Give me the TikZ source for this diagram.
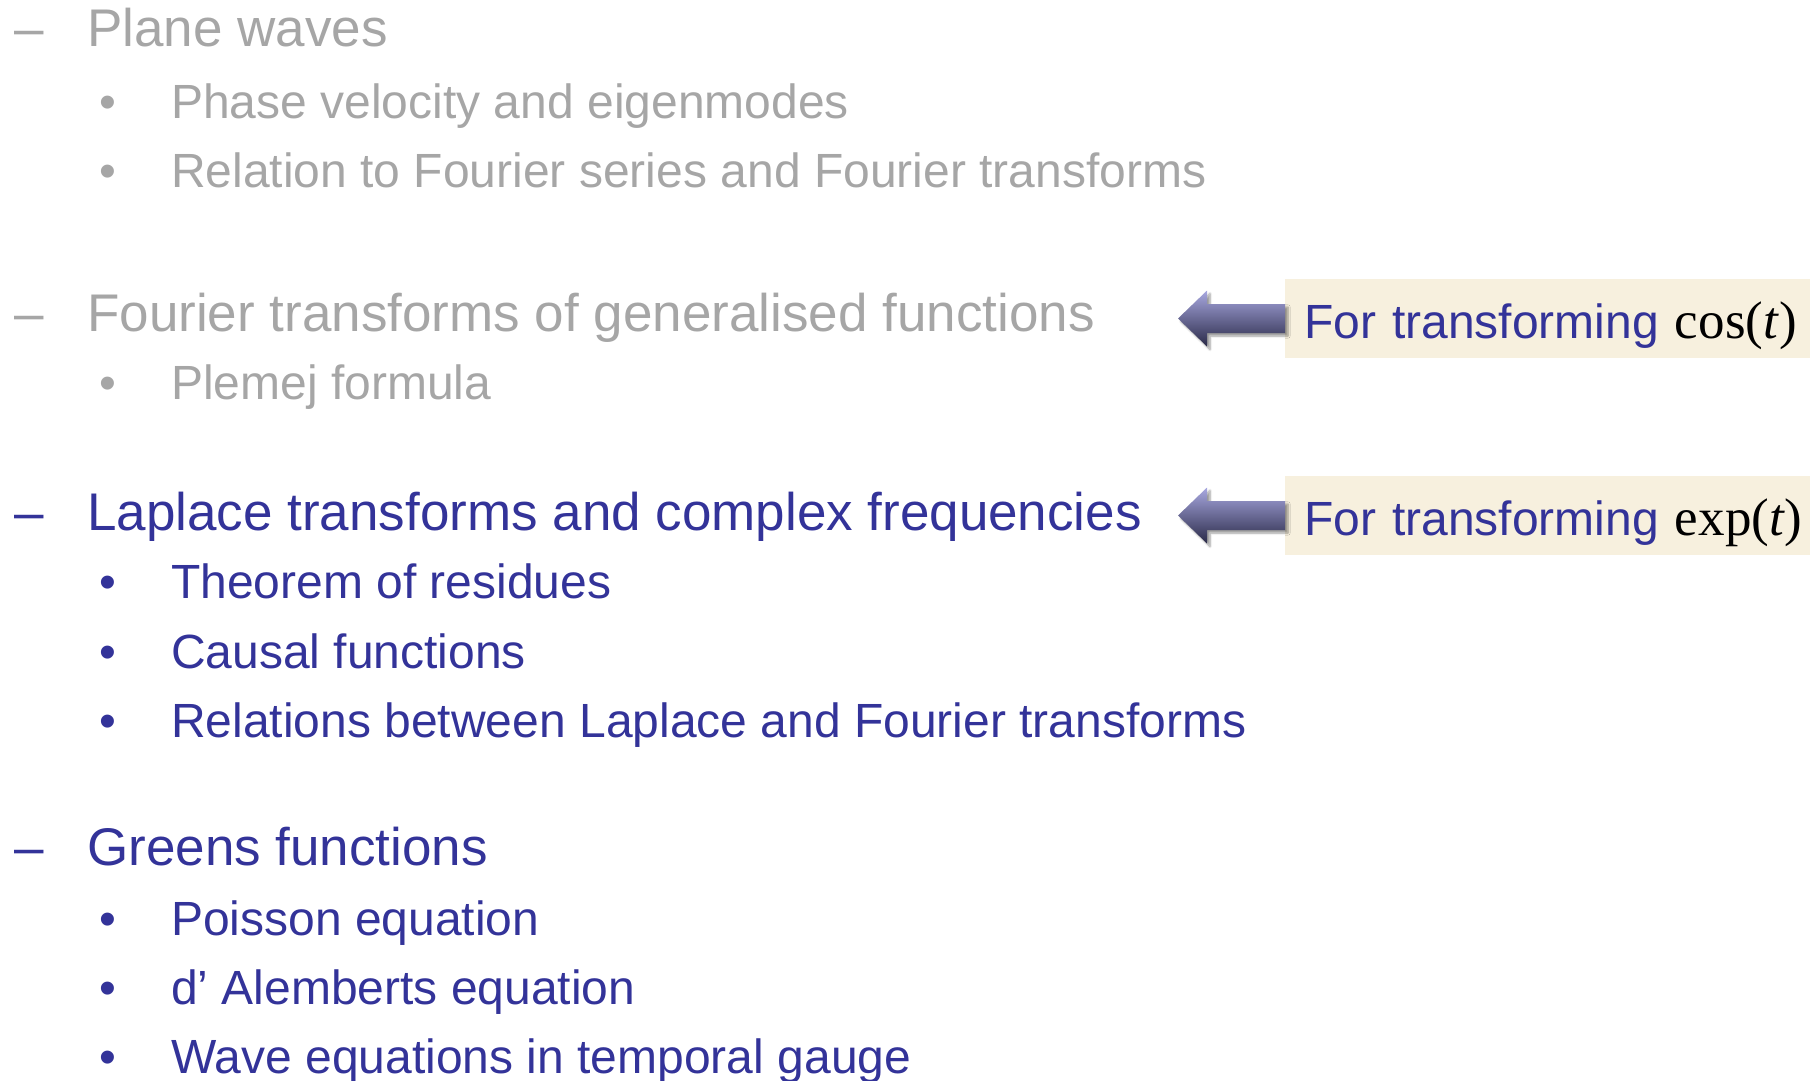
\documentclass[tikz,border=0pt]{standalone}
\usepackage{fontspec}
\setmainfont{Liberation Sans}
\newfontfamily\mathserif{Liberation Serif}
\usepackage{tikz}
\usetikzlibrary{shadows.blur}
\definecolor{slideblue}{RGB}{51,51,153}
\definecolor{slidegray}{RGB}{166,166,166}
\definecolor{notefill}{RGB}{247,240,222}
\definecolor{arrowtop}{RGB}{168,168,224}
\definecolor{arrowbot}{RGB}{42,42,72}
\newcommand{\fn}[1]{\textcolor{black}{\fontsize{53}{60}\mathserif #1(\textit{t})}}

\begin{document}
\begin{tikzpicture}[x=1pt,y=-1pt,
    every node/.style={inner sep=0pt,anchor=base west},
    topitem/.style={font=\fontsize{53}{60}\selectfont},
    subitem/.style={font=\fontsize{48}{56}\selectfont},
    done/.style={text=slidegray},
    todo/.style={text=slideblue},
    notebox/.style={fill=notefill,text=slideblue,font=\fontsize{48}{56}\selectfont,
      text height=59pt,text depth=20pt,inner xsep=19pt,text width=520pt,align=left},
    leftarrow/.style={top color=arrowtop,bottom color=arrowbot,
      blur shadow={shadow xshift=3pt,shadow yshift=-3pt,shadow blur steps=6}}]
	\clip (0,0) rectangle (1810,1080);

	% plane waves
	\node[topitem,done] (dash1) at (14,46) {–};
	\node[topitem,done] (plane) at (87,46) {Plane waves};
	\node[subitem,done] (dot11) at (99,118) {•};
	\node[subitem,done] (phase) at (171,118) {Phase velocity and eigenmodes};
	\node[subitem,done] (dot12) at (99,187) {•};
	\node[subitem,done] (series) at (171,187) {Relation to Fourier series and Fourier transforms};

	% generalised functions
	\node[topitem,done] (dash2) at (14,331) {–};
	\node[topitem,done] (general) at (87,331) {Fourier transforms of generalised functions};
	\node[subitem,done] (dot21) at (99,399) {•};
	\node[subitem,done] (plemej) at (171,399) {Plemej formula};

	% laplace
	\node[topitem,todo] (dash3) at (14,530) {–};
	\node[topitem,todo] (laplace) at (87,530) {Laplace transforms and complex frequencies};
	\node[subitem,todo] (dot31) at (99,598) {•};
	\node[subitem,todo] (residues) at (171,598) {Theorem of residues};
	\node[subitem,todo] (dot32) at (99,668) {•};
	\node[subitem,todo] (causal) at (171,668) {Causal functions};
	\node[subitem,todo] (dot33) at (99,737) {•};
	\node[subitem,todo] (relations) at (171,737) {Relations between Laplace and Fourier transforms};

	% greens functions
	\node[topitem,todo] (dash4) at (14,865) {–};
	\node[topitem,todo] (greens) at (87,865) {Greens functions};
	\node[subitem,todo] (dot41) at (99,935) {•};
	\node[subitem,todo] (poisson) at (171,935) {Poisson equation};
	\node[subitem,todo] (dot42) at (99,1004) {•};
	\node[subitem,todo] (alembert) at (171,1004) {d’ Alemberts equation};
	\node[subitem,todo] (dot43) at (99,1073) {•};
	\node[subitem,todo] (temporal) at (171,1073) {Wave equations in temporal gauge};

	% notes on the right
	\node[notebox] (cosnote) at (1285,338) {For transforming \fn{cos}};
	\node[notebox] (expnote) at (1285,535) {For transforming \fn{exp}};

	\shade[leftarrow] (cosnote.west) ++(0,-14.5) -- ++(-78,0) -- ++(0,-13.5) -- ++(-29,28)
		-- ++(29,28) -- ++(0,-13.5) -- ++(78,0) -- cycle;
	\shade[leftarrow] (expnote.west) ++(0,-14.5) -- ++(-78,0) -- ++(0,-13.5) -- ++(-29,28)
		-- ++(29,28) -- ++(0,-13.5) -- ++(78,0) -- cycle;
\end{tikzpicture}
\end{document}
